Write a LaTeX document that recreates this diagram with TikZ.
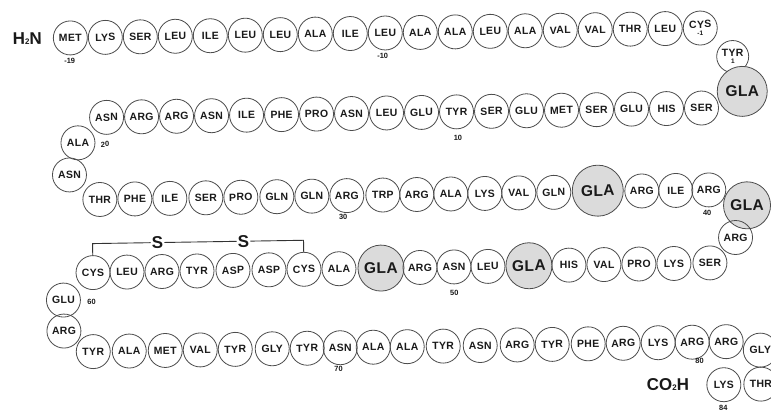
\documentclass[tikz,border=0pt]{standalone}
\usepackage{fontspec}
\setmainfont{Liberation Sans}
\newfontfamily\resfont{Liberation Sans}[LetterSpace=3]
\begin{document}
\begin{tikzpicture}[x=1pt,y=-1pt,
  res/.style={circle, draw=black!70, line width=0.8pt, minimum size=34pt, inner sep=0pt,
    text=black!90, font=\resfont\bfseries\fontsize{10.5}{10.5}\selectfont},
  gla/.style={res, minimum size=49pt, fill=black!14, font=\resfont\bfseries\fontsize{15.5}{15.5}\selectfont},
  num/.style={inner sep=0pt, text=black!90, font=\bfseries\fontsize{7.5}{7.5}\selectfont},
  big/.style={inner sep=0pt, text=black!90, font=\bfseries\fontsize{17}{17}\selectfont},
  sulf/.style={inner sep=1pt, text=black!90, font=\bfseries\fontsize{17}{17}\selectfont},
  bond/.style={draw=black!80, line width=0.9pt}]
\useasboundingbox (0,0) rectangle (771,413);
\fill[white] (0,0) rectangle (771,413);
\begin{scope}[rotate around={0.9:(385,206)}, transform shape]
% row 1
\node[big] (h2n) at (30,33) {H\raisebox{-0.5pt}{\fontsize{8}{8}\selectfont 2}N};
\foreach \n [count=\i from 0] in {MET,LYS,SER,LEU,ILE,LEU,LEU,ALA,ILE,LEU,ALA,ALA,LEU,ALA,VAL,VAL,THR,LEU}{
  \node[res] (a\i) at ({73+35*\i},33) {\n};
}
\node[res, align=center] (a18) at (703,33) {CYS\\[-3pt]{\fontsize{6.5}{6.5}\selectfont -1}};
\node[num] (n19) at (72,56) {-19};
\node[num] (n10a) at (385,56) {-10};
\node[res, align=center, minimum size=32pt] (tyr1) at (735,62) {TYR\\[-3pt]{\fontsize{6.5}{6.5}\selectfont 1}};
\node[gla, minimum size=50pt] (g1) at (744,97) {GLA};
% row 2
\foreach \n [count=\i from 0] in {ASN,ARG,ARG,ASN,ILE,PHE,PRO,ASN,LEU,GLU,TYR,SER,GLU,MET,SER,GLU,HIS,SER}{
  \node[res] (b\i) at ({108+35*\i},113) {\n};
}
\node[num] (n10) at (459,139) {10};
\node[res] (ala20) at (79,138) {ALA};
\node[num] (n20) at (106,140) {20};
\node[res] (asn21) at (70,170) {ASN};
% row 3
\foreach \n/\x [count=\i from 0] in {THR/100,PHE/135,ILE/170,SER/206,PRO/241,GLN/277,GLN/312,ARG/347,TRP/383,ARG/417,ALA/451,LYS/485,VAL/519,GLN/554}{
  \node[res] (c\i) at (\x,195) {\n};
}
\node[gla, minimum size=51pt] (g2) at (598,194) {GLA};
\foreach \n/\x [count=\i from 15] in {ARG/642,ILE/676,ARG/709}{
  \node[res] (c\i) at (\x,195) {\n};
}
\node[num] (n30) at (343,216) {30};
\node[num] (n40) at (707,218) {40};
\node[gla, minimum size=47pt] (g3) at (747,211) {GLA};
\node[res] (arg42) at (735,243) {ARG};
% row 4
\foreach \n/\x [count=\i from 0] in {CYS/92,LEU/126,ARG/161,TYR/196,ASP/232,ASP/268,CYS/303,ALA/338}{
  \node[res] (d\i) at (\x,268) {\n};
}
\node[gla, minimum size=46pt] (g4) at (380,268) {GLA};
\foreach \n/\x [count=\i from 9] in {ARG/419,ASN/453,LEU/487}{
  \node[res] (d\i) at (\x,268) {\n};
}
\node[gla, minimum size=46pt] (g5) at (528,268) {GLA};
\foreach \n/\x [count=\i from 13] in {HIS/568,VAL/603,PRO/638,LYS/673,SER/709}{
  \node[res] (d\i) at (\x,268) {\n};
}
\node[num] (n50) at (453,294) {50};
\node[sulf] (sa) at (157,239) {S};
\node[sulf] (sb) at (243,239) {S};
\draw[bond] (d0.north) |- (sa.west);
\draw[bond] (sa.east) -- (sb.west);
\draw[bond] (sb.east) -| (d6.north);
\node[res] (glu61) at (62,295) {GLU};
\node[num] (n60) at (90,297) {60};
\node[res] (arg62) at (62,326) {ARG};
% row 5
\foreach \n/\x [count=\i from 0] in {TYR/91,ALA/127,MET/163,VAL/198,TYR/233,GLY/270,TYR/305,ASN/338,ALA/371,ALA/405,TYR/441,ASN/478,ARG/515,TYR/550,PHE/586,ARG/621,LYS/656,ARG/690,ARG/724}{
  \node[res] (e\i) at (\x,347) {\n};
}
\node[num] (n70) at (336,368) {70};
\node[num] (n80) at (697,366) {80};
\node[res] (gly82) at (758,356) {GLY};
\node[res] (thr83) at (758,390) {THR};
\node[res] (lys84) at (721,390) {LYS};
\node[num] (n84) at (720,413) {84};
\node[big] (co2h) at (665,389) {CO\raisebox{-0.5pt}{\fontsize{8}{8}\selectfont 2}H};
\end{scope}
\end{tikzpicture}
\end{document}
